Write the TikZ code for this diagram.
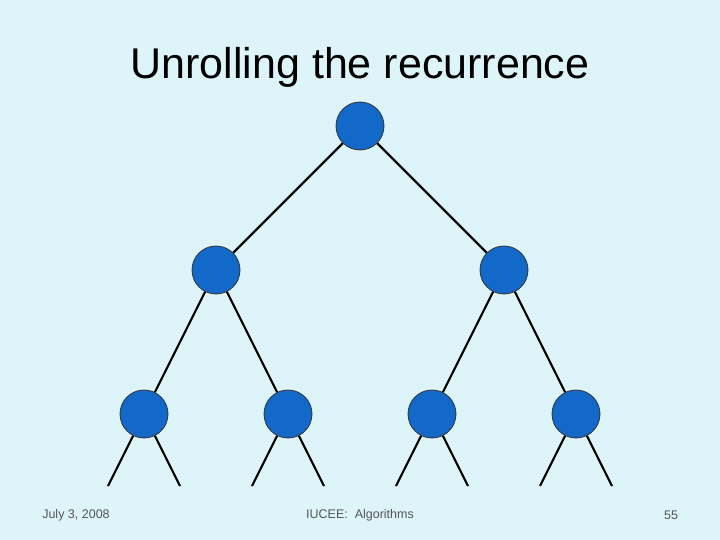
\documentclass[tikz,border=0pt]{standalone}
\usepackage{fontspec}
\setmainfont{Liberation Sans}
\definecolor{bg}{HTML}{DDF4F8}
\definecolor{nodeblue}{HTML}{1269C9}
\definecolor{foot}{HTML}{555555}
\begin{document}
\begin{tikzpicture}[x=1pt,y=-1pt,
  tn/.style={circle,draw=black!80,line width=0.8pt,fill=nodeblue,minimum size=48pt,inner sep=0pt},
  edge/.style={line width=2.2pt,black},
  ft/.style={font=\fontsize{12.5}{14}\selectfont,text=foot}]
\fill[bg] (0,0) rectangle (720,540);
\useasboundingbox (0,0) rectangle (720,540);
\node[font=\fontsize{43}{48}\selectfont] (title) at (360,67) {Unrolling the recurrence};
\node[tn] (r) at (360,126) {};
\node[tn] (a) at (216,270) {};
\node[tn] (b) at (504,270) {};
\node[tn] (a1) at (144,414) {};
\node[tn] (a2) at (288,414) {};
\node[tn] (b1) at (432,414) {};
\node[tn] (b2) at (576,414) {};
\draw[edge] (r) -- (a);
\draw[edge] (r) -- (b);
\draw[edge] (a) -- (a1);
\draw[edge] (a) -- (a2);
\draw[edge] (b) -- (b1);
\draw[edge] (b) -- (b2);
\foreach \n/\x in {a1/144,a2/288,b1/432,b2/576}{
  \coordinate (\n l) at (\x-36,486);
  \coordinate (\n r) at (\x+36,486);
  \draw[edge] (\n) -- (\n l);
  \draw[edge] (\n) -- (\n r);
}
\node[ft] (date) at (76,515) {July 3, 2008};
\node[ft] (mid) at (360,515) {IUCEE:\ \ Algorithms};
\node[ft] (pg) at (671,515) {55};
\end{tikzpicture}
\end{document}
